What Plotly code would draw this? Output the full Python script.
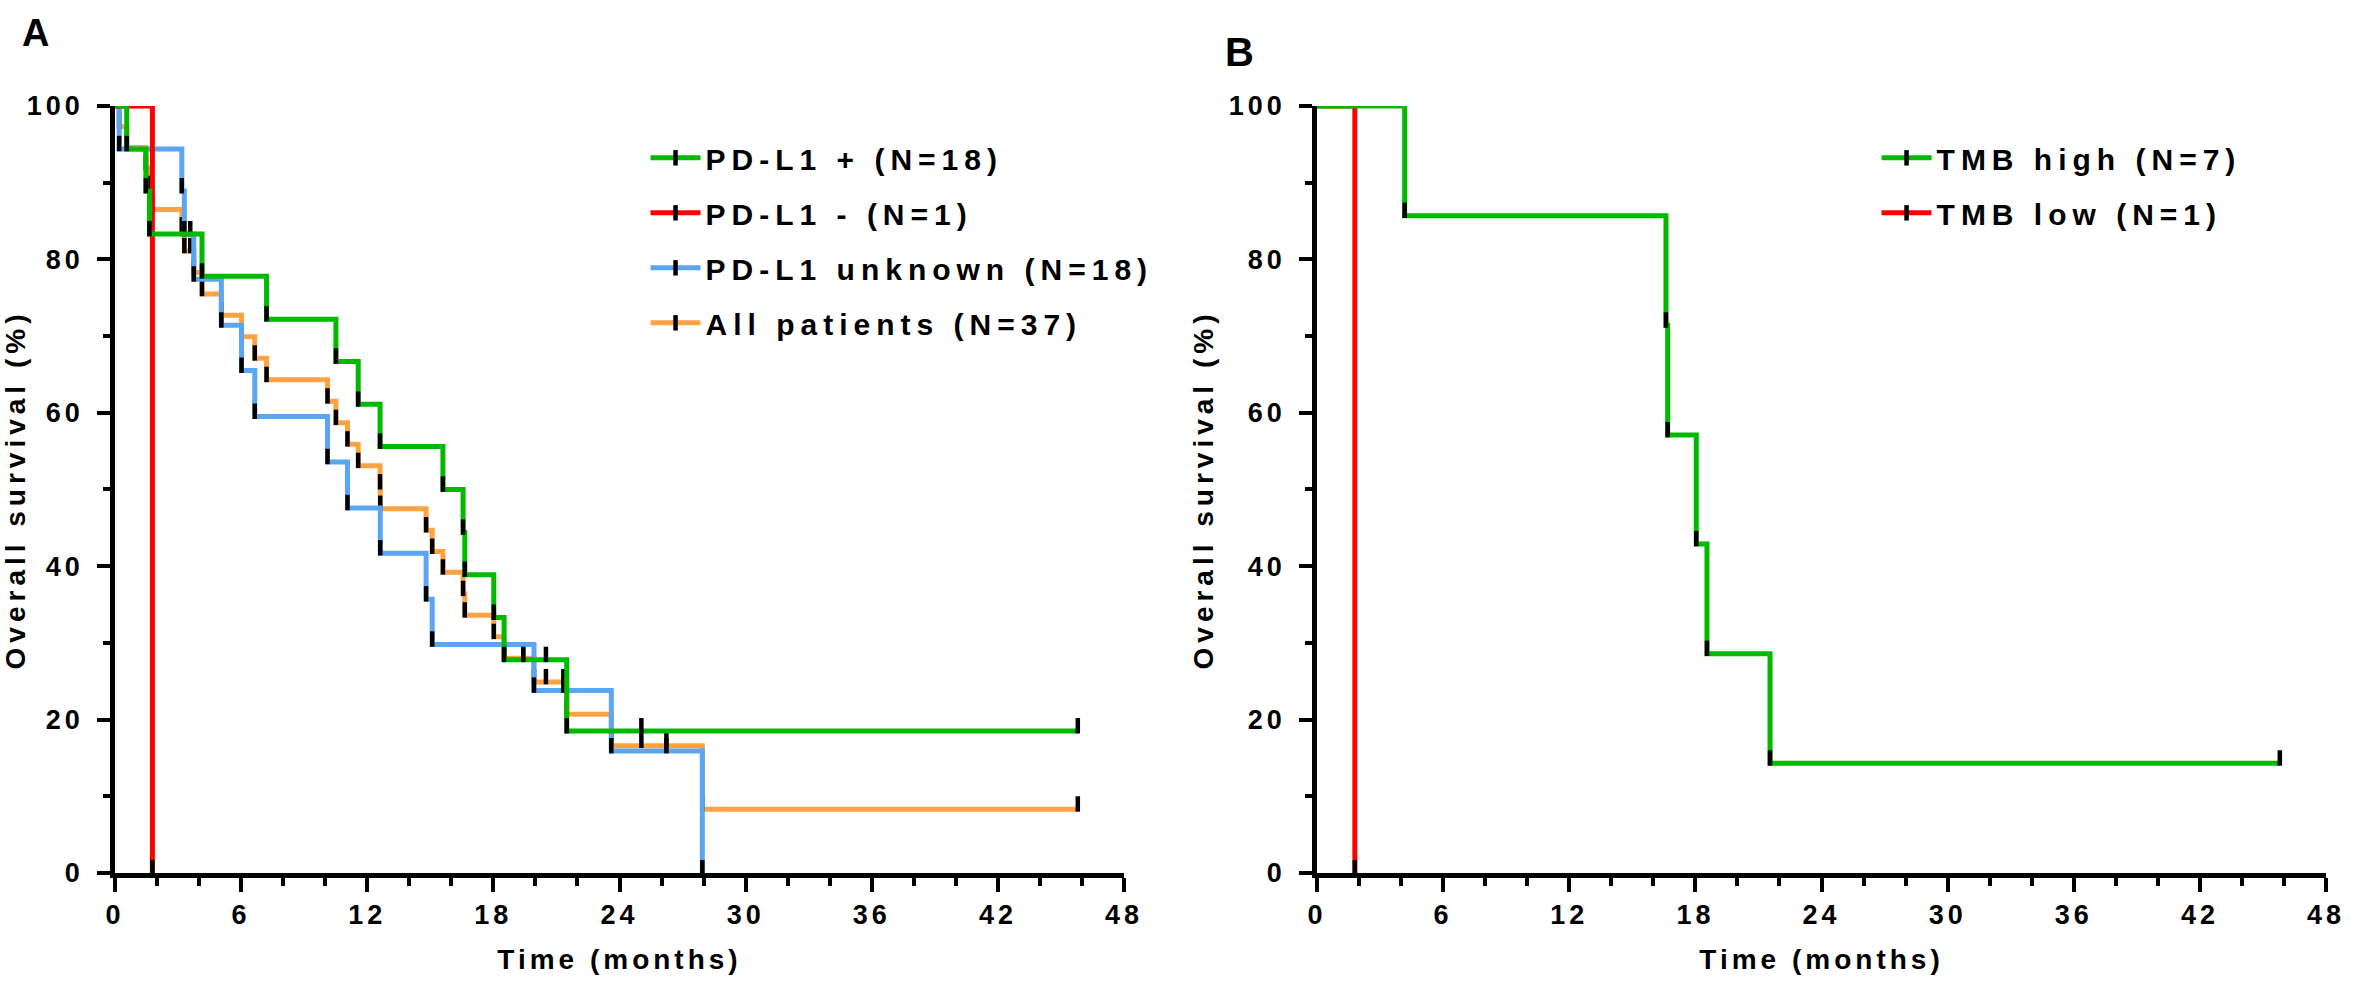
import plotly.graph_objects as go

# Panel A - overall survival by PD-L1 status (time in months, survival in %)
pdl1_pos_t = [0, 0.56, 1.47, 1.64, 4.14, 7.21, 10.51, 11.57, 12.61, 15.6, 16.56, 16.64,
              18.02, 18.51, 19.42, 20.5, 21.49, 25.04, 45.8]
pdl1_pos_s = [100, 94.4, 88.9, 83.3, 77.8, 72.2, 66.7, 61.1, 55.6, 50.0, 44.4, 38.9,
              33.3, 27.8, 27.8, 27.8, 18.5, 18.5, 18.5]

pdl1_neg_t = [0, 1.78]
pdl1_neg_s = [100, 0]

pdl1_unk_t = [0, 0.2, 3.18, 3.30, 3.58, 3.75, 5.06, 6.02, 6.65, 10.11, 11.06, 12.62,
              14.8, 15.09, 19.93, 21.33, 23.61, 26.23, 27.94]
pdl1_unk_s = [100, 94.4, 88.9, 83.3, 83.3, 77.4, 71.4, 65.5, 59.5, 53.6, 47.6, 41.7,
              35.7, 29.8, 23.8, 23.8, 15.9, 15.9, 0]

all_t = [0, 0.2, 0.56, 1.47, 1.64, 1.78, 3.18, 3.30, 3.58, 3.75, 4.14, 5.06, 6.02, 6.65,
         7.21, 10.11, 10.51, 11.06, 11.57, 12.61, 12.62, 14.8, 15.09, 15.6, 16.56, 16.64,
         18.02, 18.51, 19.42, 19.93, 20.5, 21.33, 21.49, 23.61, 25.04, 26.23, 27.94, 45.8]
all_s = [100, 97.3, 94.6, 91.9, 89.2, 86.5, 83.8, 81.1, 81.1, 78.3, 75.5, 72.7, 69.9, 67.1,
         64.3, 61.5, 58.7, 55.9, 53.1, 50.3, 47.5, 44.7, 41.9, 39.2, 36.4, 33.6,
         30.8, 28.0, 28.0, 24.9, 24.9, 24.9, 20.7, 16.6, 16.6, 16.6, 8.3, 8.3]

# Panel B - overall survival by TMB
tmb_high_t = [0, 4.17, 16.6, 16.68, 18.04, 18.55, 21.55, 45.8]
tmb_high_s = [100, 85.7, 71.4, 57.1, 42.9, 28.6, 14.3, 14.3]

tmb_low_t = [0, 1.8]
tmb_low_s = [100, 0]

x_ticks = [0, 6, 12, 18, 24, 30, 36, 42, 48]
y_ticks = [0, 20, 40, 60, 80, 100]

GREEN = "#00BA00"
RED = "#FF0000"
BLUE = "#5BA5F5"
ORANGE = "#FFA244"
FONT = "Liberation Sans, Arial, sans-serif"
tick_lift = 0.7  # censor ticks sit just above the curve

# drawing order = bottom to top
panel_a = [
    ("All patients (N=37)", all_t, all_s, ORANGE),
    ("PD-L1 unknown (N=18)", pdl1_unk_t, pdl1_unk_s, BLUE),
    ("PD-L1 - (N=1)", pdl1_neg_t, pdl1_neg_s, RED),
    ("PD-L1 + (N=18)", pdl1_pos_t, pdl1_pos_s, GREEN),
]
panel_b = [
    ("TMB low (N=1)", tmb_low_t, tmb_low_s, RED),
    ("TMB high (N=7)", tmb_high_t, tmb_high_s, GREEN),
]

fig = go.Figure()

tick_marker = dict(symbol="line-ns", size=11, color="black",
                   line=dict(width=4.5, color="black"))


def legend_entry(name, colour, xa, ya, leg):
    fig.add_trace(go.Scatter(
        x=[None], y=[None], mode="lines+markers", name=name, legend=leg,
        legendgroup=name, xaxis=xa, yaxis=ya,
        line=dict(color=colour, width=5), marker=tick_marker,
    ))


def km_curve(t, s, colour, xa, ya):
    fig.add_trace(go.Scatter(
        x=t, y=s, mode="lines", line=dict(color=colour, width=5, shape="hv"),
        showlegend=False, hoverinfo="skip", xaxis=xa, yaxis=ya,
    ))
    fig.add_trace(go.Scatter(
        x=t[1:], y=[v + tick_lift for v in s[1:]], mode="markers", marker=tick_marker,
        showlegend=False, hoverinfo="skip", xaxis=xa, yaxis=ya, cliponaxis=False,
    ))


for name, t, s, c in reversed(panel_a):
    legend_entry(name, c, "x", "y", "legend")
for name, t, s, c in reversed(panel_b):
    legend_entry(name, c, "x2", "y2", "legend2")

for name, t, s, c in panel_a:
    km_curve(t, s, c, "x", "y")
for name, t, s, c in panel_b:
    km_curve(t, s, c, "x2", "y2")

xaxis_style = dict(
    range=[0, 48], tickvals=x_ticks, ticks="outside", ticklen=14, tickwidth=4,
    tickcolor="black", showline=True, linewidth=4.5, linecolor="black",
    showgrid=False, zeroline=False, ticklabelstandoff=0, automargin=False,
    minor=dict(dtick=2, tick0=0, ticks="outside", ticklen=8, tickwidth=4, tickcolor="black"),
    tickfont=dict(family=FONT, size=27, color="black", weight="bold"),
    title=dict(text="Time (months)", standoff=22,
               font=dict(family=FONT, size=28, color="black", weight="bold")),
)
yaxis_style = dict(
    range=[0, 100], tickvals=y_ticks, ticks="outside", ticklen=13, tickwidth=4,
    tickcolor="black", showline=True, linewidth=4.5, linecolor="black",
    showgrid=False, zeroline=False, ticklabelstandoff=8, automargin=False,
    minor=dict(dtick=10, tick0=0, ticks="outside", ticklen=7, tickwidth=4, tickcolor="black"),
    tickfont=dict(family=FONT, size=27, color="black", weight="bold"),
    title=dict(text="Overall survival (%)", standoff=20,
               font=dict(family=FONT, size=28, color="black", weight="bold")),
    domain=[0.1226, 0.8935],
)

legend_style = dict(
    font=dict(family=FONT, size=30, color="black", weight="bold"),
    bgcolor="rgba(0,0,0,0)", traceorder="grouped", tracegroupgap=13,
    xanchor="left", yanchor="top", itemwidth=50,
)

fig.update_layout(
    width=2356, height=995,
    margin=dict(l=0, r=0, t=0, b=0, autoexpand=False),
    paper_bgcolor="white", plot_bgcolor="white",
    xaxis=dict(xaxis_style, domain=[0.0488, 0.4771], anchor="y"),
    yaxis=dict(yaxis_style, anchor="x"),
    xaxis2=dict(xaxis_style, domain=[0.559, 0.9873], anchor="y2"),
    yaxis2=dict(yaxis_style, anchor="x2"),
    legend=dict(legend_style, x=0.274, y=0.8675),
    legend2=dict(legend_style, x=0.7965, y=0.8675),
    annotations=[
        dict(text="A", x=0.0085, y=0.99, xref="paper", yref="paper", showarrow=False,
             xanchor="left", yanchor="top",
             font=dict(family=FONT, size=38, color="black", weight="bold")),
        dict(text="B", x=0.519, y=0.972, xref="paper", yref="paper", showarrow=False,
             xanchor="left", yanchor="top",
             font=dict(family=FONT, size=40, color="black", weight="bold")),
    ],
)

# GraphPad-style wide letter spacing; legend clip removed so the wider labels
# are not cut off; no page margin round the figure
spacing_js = (
    "document.body.style.margin='0';"
    "var gd=document.getElementById('{plot_id}');"
    "function sp(sel,v){gd.querySelectorAll(sel).forEach(function(t){t.style.letterSpacing=v;});}"
    "function spaceAll(){"
    "sp('.xtick text, .ytick text, .x2tick text, .y2tick text','4px');"
    "sp('.legendtext, .legend2text','6px');"
    "sp('.xtitle, .x2title','4px');"
    "sp('.ytitle, .y2title','5px');"
    "gd.querySelectorAll('g[class^=legend] [clip-path]').forEach(function(e){e.removeAttribute('clip-path');});"
    "}"
    "spaceAll();gd.on('plotly_afterplot',spaceAll);"
)

fig.write_html("out.html", post_script=spacing_js, config={"displayModeBar": False})
